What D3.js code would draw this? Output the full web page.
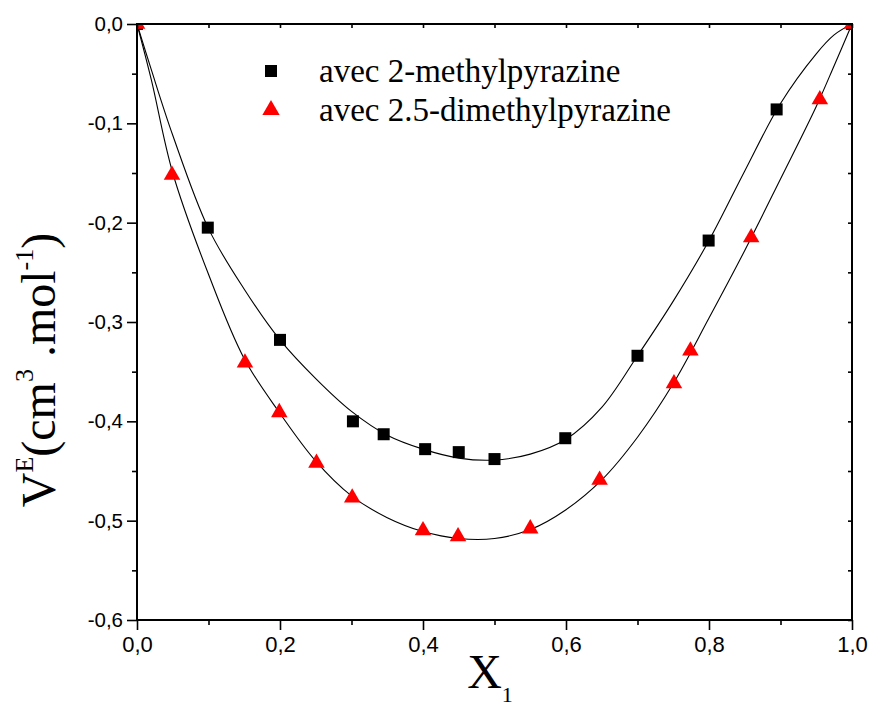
<!DOCTYPE html>
<html><head><meta charset="utf-8">
<script src="https://cdn.jsdelivr.net/npm/d3@7"></script>
<style>body{margin:0;background:#fff}svg{display:block}</style>
</head><body><svg id="c" width="871" height="706"></svg>
<script>
// ---- data ----
const seriesNames = ["avec 2-methylpyrazine", "avec 2.5-dimethylpyrazine"];
const seriesColors = ["#000000", "#ff0000"];

const methylX = [0, 0.099, 0.2, 0.302, 0.345, 0.403, 0.45, 0.5, 0.599, 0.7, 0.7995, 0.8946, 1];
const methylV = [0, -0.205, -0.318, -0.400, -0.413, -0.428, -0.431, -0.438, -0.417, -0.334, -0.218, -0.086, 0];

const dimethylX = [0, 0.049, 0.151, 0.199, 0.251, 0.301, 0.4, 0.449, 0.55, 0.647, 0.751, 0.774, 0.859, 0.955, 1];
const dimethylV = [0, -0.152, -0.341, -0.391, -0.442, -0.477, -0.510, -0.516, -0.508, -0.459, -0.362, -0.329, -0.215, -0.076, 0];

// fitted curves
const fitX = [0, 0.02, 0.05, 0.1, 0.15, 0.2, 0.25, 0.3, 0.35, 0.4, 0.45, 0.5, 0.55, 0.6, 0.65, 0.7, 0.75, 0.8, 0.85, 0.9, 0.95, 0.975, 1];
const fitMethyl = [0, -0.046, -0.112, -0.206, -0.267, -0.318, -0.357, -0.390, -0.414, -0.428, -0.437, -0.439, -0.433, -0.418, -0.386, -0.334, -0.279, -0.218, -0.148, -0.080, -0.030, -0.011, 0];
const fitDimethyl = [0, -0.056, -0.150, -0.252, -0.337, -0.392, -0.440, -0.475, -0.497, -0.511, -0.518, -0.518, -0.509, -0.489, -0.459, -0.416, -0.362, -0.296, -0.228, -0.156, -0.083, -0.042, 0];

const xTickValues = [0, 0.2, 0.4, 0.6, 0.8, 1.0];
const xMinorTicks = [0.1, 0.3, 0.5, 0.7, 0.9];
const yTickValues = [0, -0.1, -0.2, -0.3, -0.4, -0.5, -0.6];
const yMinorTicks = [-0.05, -0.15, -0.25, -0.35, -0.45, -0.55];

// ---- layout ----
const W = 871, H = 706;
const m = {left: 137, right: 19, top: 24, bottom: 86};
const iw = W - m.left - m.right, ih = H - m.top - m.bottom;

const svg = d3.select("#c");
const x = d3.scaleLinear().domain([0, 1]).range([m.left, m.left + iw]);
const y = d3.scaleLinear().domain([-0.6, 0]).range([m.top + ih, m.top]);

const loc = d3.formatLocale({decimal: ",", thousands: ".", grouping: [3], currency: ["", ""], minus: "-"});
const fmt = loc.format(".1f");

// clip
svg.append("defs").append("clipPath").attr("id", "clip")
  .append("rect").attr("x", m.left).attr("y", m.top).attr("width", iw).attr("height", ih);

// curves
const line = d3.line().x(d => x(d[0])).y(d => y(d[1])).curve(d3.curveCatmullRom.alpha(0.5));
const fits = [fitMethyl, fitDimethyl];
fits.forEach(f => {
  svg.append("path").datum(fitX.map((v, i) => [v, f[i]]))
    .attr("d", line).attr("fill", "none").attr("stroke", "#000").attr("stroke-width", 1.1)
    .attr("clip-path", "url(#clip)");
});

// markers
const gm = svg.append("g").attr("clip-path", "url(#clip)");
const sq = 12;
gm.selectAll("rect.m").data(methylX.map((v, i) => [v, methylV[i]])).join("rect")
  .attr("class", "m").attr("x", d => x(d[0]) - sq / 2).attr("y", d => y(d[1]) - sq / 2)
  .attr("width", sq).attr("height", sq).attr("fill", seriesColors[0]);
const tri = d3.symbol().type(d3.symbolTriangle).size(118);
gm.selectAll("path.t").data(dimethylX.map((v, i) => [v, dimethylV[i]])).join("path")
  .attr("class", "t").attr("d", tri).attr("transform", d => `translate(${x(d[0])},${y(d[1])})`)
  .attr("fill", seriesColors[1]);

// axes
const gBottom = svg.append("g").attr("transform", `translate(0,${m.top + ih})`)
  .call(d3.axisBottom(x).tickValues(xTickValues).tickFormat(fmt).tickSize(10).tickPadding(6));
svg.append("g").attr("transform", `translate(0,${m.top + ih})`)
  .call(d3.axisBottom(x).tickValues(xMinorTicks).tickFormat("").tickSize(5));
const gLeft = svg.append("g").attr("transform", `translate(${m.left},0)`)
  .call(d3.axisLeft(y).tickValues(yTickValues).tickFormat(fmt).tickSize(10).tickPadding(4));
svg.append("g").attr("transform", `translate(${m.left},0)`)
  .call(d3.axisLeft(y).tickValues(yMinorTicks).tickFormat("").tickSize(5));
svg.append("g").attr("transform", `translate(0,${m.top})`)
  .call(d3.axisBottom(x).tickValues(xTickValues.concat(xMinorTicks)).tickFormat("").tickSize(4));
svg.append("g").attr("transform", `translate(${m.left + iw},0)`)
  .call(d3.axisLeft(y).tickValues(yTickValues.concat(yMinorTicks)).tickFormat("").tickSize(4));

svg.selectAll(".domain").remove();
svg.selectAll(".tick line").attr("stroke-width", 1.6);
// frame
svg.append("rect").attr("x", m.left).attr("y", m.top).attr("width", iw).attr("height", ih)
  .attr("fill", "none").attr("stroke", "#000").attr("stroke-width", 2);

gBottom.selectAll("text").attr("font-family", "Liberation Sans, Arial, sans-serif")
  .attr("font-size", 22).attr("fill", "#000");
gLeft.selectAll("text").attr("font-family", "Liberation Sans, Arial, sans-serif")
  .attr("font-size", 20.5).attr("fill", "#000");

// x label
const xl = svg.append("text").attr("x", 490).attr("y", 688)
  .attr("text-anchor", "middle").attr("font-family", "Liberation Serif, Times New Roman, serif")
  .attr("font-size", 48).attr("fill", "#000");
xl.append("tspan").text("X");
xl.append("tspan").attr("font-size", 22).attr("dy", 14).text("1");

// y label
const yl = svg.append("text").attr("transform", "translate(55,370) rotate(-90)")
  .attr("text-anchor", "middle").attr("font-family", "Liberation Serif, Times New Roman, serif")
  .attr("font-size", 48).attr("fill", "#000");
yl.append("tspan").text("V");
yl.append("tspan").attr("font-size", 26).attr("dy", -22).text("E");
yl.append("tspan").attr("dy", 22).text("(cm");
yl.append("tspan").attr("font-size", 26).attr("dy", -22).text("3");
yl.append("tspan").attr("dy", 22).text(" .mol");
yl.append("tspan").attr("font-size", 26).attr("dy", -22).text("-1");
yl.append("tspan").attr("dy", 22).text(")");

// legend
const legend = svg.append("g");
const lx = 271, ly = [71, 110];
legend.append("rect").attr("x", lx - sq / 2).attr("y", ly[0] - sq / 2).attr("width", sq).attr("height", sq).attr("fill", seriesColors[0]);
legend.append("path").attr("d", d3.symbol().type(d3.symbolTriangle).size(130)).attr("transform", `translate(${lx},${ly[1]})`).attr("fill", seriesColors[1]);
seriesNames.forEach((n, i) => {
  legend.append("text").attr("x", 319).attr("y", ly[i] + 11).text(n)
    .attr("font-family", "Liberation Serif, Times New Roman, serif").attr("font-size", 33).attr("fill", "#000");
});
</script></body></html>
